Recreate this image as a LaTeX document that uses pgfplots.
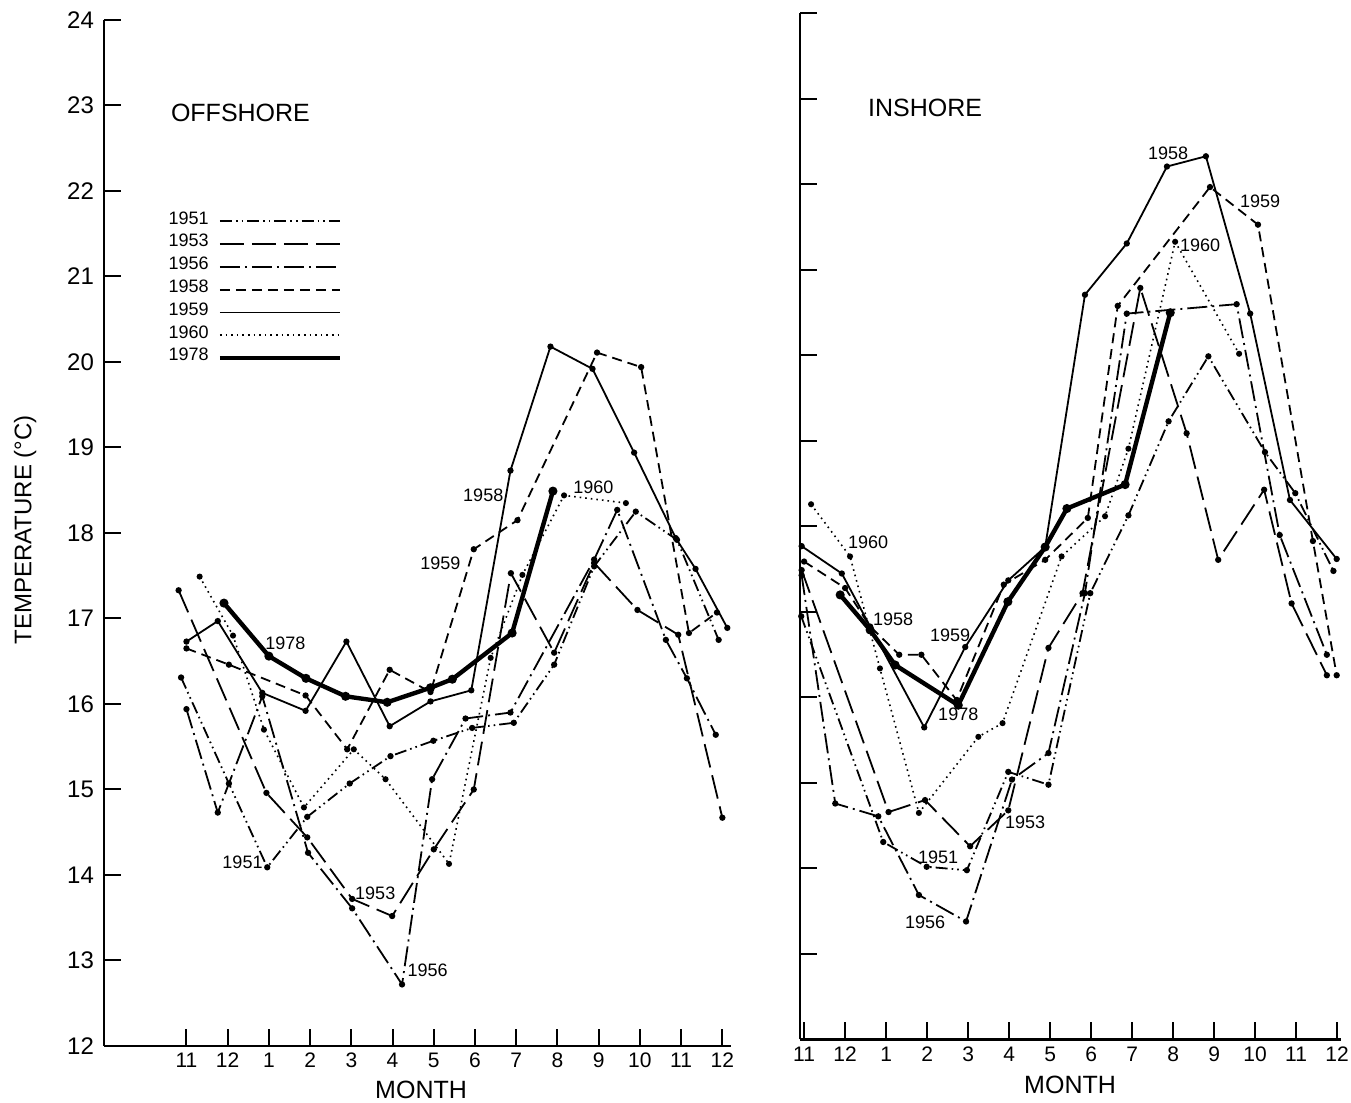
\documentclass[border=0pt]{standalone}
\usepackage{fontspec}
\setmainfont{Liberation Sans}
\usepackage{pgfplots}
\pgfplotsset{compat=1.18}

\tikzset{yl/.style={font=\fontsize{9}{9}\selectfont}}
\pgfplotsset{
  base/.style={black, line width=0.9pt, mark=*, mark size=1.1pt, mark options={solid, fill=black}},
  s51/.style={base, dash pattern=on 6pt off 2pt on 0.8pt off 2pt on 0.8pt off 2pt},
  s53/.style={base, dash pattern=on 12pt off 4pt},
  s56/.style={base, dash pattern=on 10pt off 2.5pt on 1pt off 2.5pt},
  s58/.style={base, dash pattern=on 5pt off 3pt},
  s59/.style={base, solid},
  s60/.style={base, line width=0.8pt, dash pattern=on 0.8pt off 2pt},
  s78/.style={base, line width=2.2pt, solid},
  panel/.style={
    scale only axis, clip=false,
    axis lines*=left,
    axis line style={line width=1.2pt, -},
    tick align=inside,
    major tick length=8.5pt,
    every tick/.style={black, line width=1pt},
    ymin=12, ymax=24, ytick={12,...,24},
    xtick={0,...,13},
    xticklabels={11,12,1,2,3,4,5,6,7,8,9,10,11,12},
    xticklabel style={font=\fontsize{10.5}{10.5}\selectfont},
    yticklabel style={font=\fontsize{12}{12}\selectfont, xshift=-1.5pt},
    /pgf/number format/assume math mode=true,
    height=513pt,
    xlabel={MONTH},
    xlabel style={font=\fontsize{12.5}{12.5}\selectfont, anchor=center},
  },
}

\begin{document}
\begin{tikzpicture}
\path[use as bounding box] (0pt,0pt) rectangle (675.5pt,551.5pt);

% ---------------- OFFSHORE ----------------
\begin{axis}[panel,
  at={(52pt,28.5pt)}, anchor=south west,
  width=313.3pt, xmin=-2, xmax=13.2,
  xlabel style={at={(axis description cs:0.506,-0.043)}},
  ylabel={TEMPERATURE (°C)},
  ylabel style={font=\fontsize{12}{12}\selectfont, at={(axis description cs:-0.126,0.503)}, anchor=center},
  legend plot pos=right,
  legend cell align=left,
  legend image code/.code={\draw[#1] (0pt,0pt) -- (60pt,0pt);},
  legend style={at={(axis cs:-0.43,21.78)}, anchor=north west, draw=none, fill=none,
    inner sep=0pt, outer sep=0pt, row sep=0pt, column sep=4.5pt,
    font=\fontsize{9}{9}\selectfont,
    nodes={inner sep=0pt, text height=7.2pt, text depth=4.2pt}},
]
\addplot[s51] coordinates {(-0.13,16.31) (1.03,15.07) (1.96,14.09) (2.93,14.68) (3.96,15.07) (4.95,15.39) (5.99,15.57) (6.93,15.72) (7.94,15.78) (8.92,16.46) (9.89,17.61) (10.9,18.25) (11.9,17.92) (12.91,16.75)};
\addlegendentry{1951}
\addplot[s53] coordinates {(-0.19,17.33) (1.94,14.96) (2.93,14.44) (4.02,13.72) (4.99,13.52) (6.0,14.3) (6.97,15.0) (7.87,17.53) (8.92,16.6) (9.89,17.65) (10.94,17.1) (11.93,16.81) (13.0,14.67)};
\addlegendentry{1953}
\addplot[s56] coordinates {(0.0,15.94) (0.76,14.73) (1.84,16.09) (2.95,14.26) (4.02,13.61) (5.23,12.72) (5.96,15.12) (6.77,15.83) (7.86,15.9) (9.89,17.69) (10.45,18.27) (11.63,16.75) (12.14,16.3) (12.84,15.64)};
\addlegendentry{1956}
\addplot[s58] coordinates {(0.0,16.65) (1.03,16.46) (2.89,16.1) (3.9,15.47) (4.93,16.4) (5.92,16.14) (6.97,17.81) (8.03,18.15) (9.96,20.11) (11.03,19.94) (12.19,16.83) (12.87,17.07)};
\addlegendentry{1958}
\addplot[s59] coordinates {(0.0,16.73) (0.76,16.97) (1.84,16.13) (2.89,15.92) (3.88,16.73) (4.93,15.74) (5.92,16.03) (6.91,16.16) (7.86,18.73) (8.83,20.18) (9.85,19.92) (10.86,18.94) (11.87,17.94) (12.35,17.58) (13.12,16.89)};
\addlegendentry{1959}
\addplot[s60] coordinates {(0.32,17.49) (1.13,16.8) (1.88,15.7) (2.85,14.79) (4.06,15.47) (4.83,15.12) (6.37,14.13) (7.38,16.54) (8.15,17.51) (9.16,18.44) (10.66,18.35)};
\addlegendentry{1960}
\addplot[s78] coordinates {(0.91,17.18) (2.0,16.56) (2.9,16.3) (3.86,16.09) (4.87,16.02) (5.92,16.19) (6.45,16.29) (7.9,16.83) (8.89,18.49)};
\addlegendentry{1978}

\node[font=\fontsize{12.5}{12.5}\selectfont] at (axis cs:1.31,22.91) {OFFSHORE};
\node[yl] at (axis cs:2.40,16.71) {1978};
\node[yl] at (axis cs:1.36,14.15) {1951};
\node[yl] at (axis cs:4.58,13.79) {1953};
\node[yl] at (axis cs:5.85,12.88) {1956};
\node[yl] at (axis cs:6.16,17.65) {1959};
\node[yl] at (axis cs:7.20,18.44) {1958};
\node[yl] at (axis cs:9.87,18.54) {1960};
\end{axis}

% ---------------- INSHORE ----------------
\begin{axis}[panel,
  at={(400pt,31.75pt)}, anchor=south west,
  width=270.6pt, xmin=-0.1, xmax=13.1,
  yticklabels={},
  xlabel style={at={(axis description cs:0.499,-0.044)}},
]
\addplot[s51] coordinates {(-0.07,16.95) (1.93,14.31) (2.99,14.02) (3.97,13.98) (4.98,15.13) (5.96,14.98) (6.98,17.22) (7.91,18.13) (8.89,19.23) (9.86,19.99) (11.24,18.87) (11.98,18.39) (12.91,17.48)};
\addplot[s53] coordinates {(-0.06,17.49) (2.06,14.66) (2.95,14.8) (4.05,14.26) (4.98,14.68) (5.96,16.58) (6.79,17.22) (8.2,20.79) (9.33,19.09) (10.1,17.61) (11.22,18.43) (11.89,17.1) (12.75,16.26)};
\addplot[s56] coordinates {(-0.06,17.43) (0.76,14.76) (1.81,14.61) (2.8,13.69) (3.95,13.38) (5.07,15.04) (5.96,15.35) (6.85,17.22) (7.87,20.49) (10.55,20.6) (11.6,17.9) (12.75,16.5)};
\addplot[s58] coordinates {(0.0,17.59) (1.0,17.28) (1.61,16.83) (2.32,16.5) (2.86,16.5) (3.72,15.97) (4.87,17.32) (5.88,17.61) (6.92,18.1) (7.65,20.58) (9.9,21.97) (11.07,21.53) (12.41,17.83) (12.99,16.26)};
\addplot[s59] coordinates {(-0.06,17.77) (0.92,17.45) (2.93,15.65) (3.93,16.59) (4.98,17.37) (5.88,17.76) (6.85,20.71) (7.87,21.31) (8.85,22.21) (9.8,22.33) (10.88,20.49) (11.85,18.31) (12.99,17.62)};
\addplot[s60] coordinates {(0.17,18.26) (1.12,17.65) (1.85,16.34) (2.8,14.65) (4.25,15.54) (4.84,15.7) (6.28,17.65) (7.34,18.12) (7.91,18.91) (9.05,21.33) (10.61,20.02)};
\addplot[s78] coordinates {(0.88,17.2) (1.61,16.79) (2.22,16.38) (3.76,15.91) (4.97,17.12) (5.88,17.76) (6.41,18.21) (7.83,18.49) (8.93,20.5)};

\node[font=\fontsize{12.5}{12.5}\selectfont] at (axis cs:2.95,22.9) {INSHORE};
\node[yl] at (axis cs:1.56,17.81) {1960};
\node[yl] at (axis cs:2.17,16.91) {1958};
\node[yl] at (axis cs:3.56,16.73) {1959};
\node[yl] at (axis cs:3.76,15.80) {1978};
\node[yl] at (axis cs:3.27,14.13) {1951};
\node[yl] at (axis cs:2.95,13.37) {1956};
\node[yl] at (axis cs:5.39,14.54) {1953};
\node[yl] at (axis cs:8.88,22.37) {1958};
\node[yl] at (axis cs:11.12,21.80) {1959};
\node[yl] at (axis cs:9.66,21.29) {1960};
\end{axis}
\end{tikzpicture}
\end{document}
